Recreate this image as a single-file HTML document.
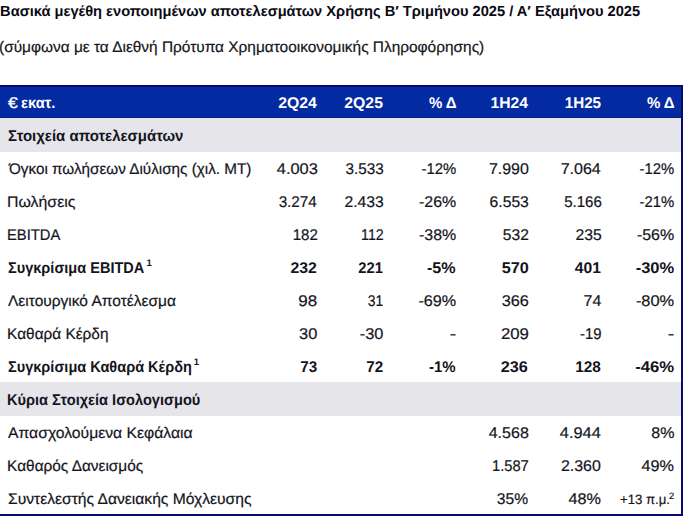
<!DOCTYPE html>
<html lang="el"><head><meta charset="utf-8"><title>Table</title>
<style>
html,body{margin:0;padding:0;background:#fff;}
body{text-rendering:geometricPrecision;width:685px;height:518px;position:relative;overflow:hidden;font-family:"Liberation Sans",sans-serif;color:#14141c;}
.t{position:absolute;white-space:nowrap;line-height:1;}
.L{transform-origin:0 0;}
.R{transform-origin:100% 0;}
.b{font-weight:bold;}
.t:not(.b){-webkit-text-stroke:0.2px currentColor;}
.t.sb{-webkit-text-stroke:0.3px currentColor;}
.hdr{position:absolute;left:0;top:85px;width:683px;height:33px;background:#032aa0;border-top:2px solid #08086e;border-bottom:1px solid #02208a;box-sizing:border-box;}
.sec{position:absolute;left:0;width:682px;height:34px;background:#e5e5ea;}
.rb{position:absolute;left:681px;top:85px;width:2px;height:431px;background:#08086e;}
.bb{position:absolute;left:0;top:514px;width:683px;height:2px;background:#08086e;}
</style></head><body>
<div class="hdr"></div>
<div class="sec" style="top:118px"></div>
<div class="sec" style="top:382px"></div>

<div class="t L b" id="title" style="top:5px;font-size:14.65px;color:#0a0a14;left:0.09px;">Βασικά μεγέθη ενοποιημένων αποτελεσμάτων Χρήσης Β′ Τριμήνου 2025 / Α′ Εξαμήνου 2025</div>
<div class="t L" id="sub" style="top:40px;font-size:15.3px;color:#15151c;left:-0.72px;transform:scaleX(1.0079);">(σύμφωνα με τα Διεθνή Πρότυπα Χρηματοοικονομικής Πληροφόρησης)</div>
<div class="t L b" id="l0" style="top:96px;font-size:15.5px;color:#fff;left:21.44px;transform:scaleX(0.9501);">εκατ.</div>
<div class="t R b" id="n0_0" style="top:96px;font-size:15.5px;color:#fff;right:368.30px;transform:scaleX(1.0205);">2Q24</div>
<div class="t R b" id="n0_1" style="top:96px;font-size:15.5px;color:#fff;right:301.91px;transform:scaleX(1.0176);">2Q25</div>
<div class="t R b" id="n0_2" style="top:96px;font-size:15.5px;color:#fff;right:228.83px;transform:scaleX(0.9683);">% Δ</div>
<div class="t R b" id="n0_3" style="top:96px;font-size:15.5px;color:#fff;right:157.20px;transform:scaleX(1.0143);">1H24</div>
<div class="t R b" id="n0_4" style="top:96px;font-size:15.5px;color:#fff;right:83.82px;transform:scaleX(0.9804);">1H25</div>
<div class="t R b" id="n0_5" style="top:96px;font-size:15.5px;color:#fff;right:10.63px;transform:scaleX(0.9683);">% Δ</div>
<div class="t L b" id="l1" style="top:129px;font-size:15.5px;left:8.23px;transform:scaleX(0.9647);">Στοιχεία αποτελεσμάτων</div>
<div class="t L" id="l2" style="top:162px;font-size:15.4px;left:9.02px;transform:scaleX(0.9915);">Όγκοι πωλήσεων Διύλισης (χιλ. ΜΤ)</div>
<div class="t R" id="n2_0" style="top:162px;font-size:15.5px;right:367.54px;transform:scaleX(1.0576);">4.003</div>
<div class="t R" id="n2_1" style="top:162px;font-size:15.5px;right:301.68px;transform:scaleX(0.9847);">3.533</div>
<div class="t R" id="n2_2" style="top:162px;font-size:15.5px;right:228.86px;transform:scaleX(0.9592);">-12%</div>
<div class="t R" id="n2_3" style="top:162px;font-size:15.5px;right:156.70px;transform:scaleX(1.0272);">7.990</div>
<div class="t R" id="n2_4" style="top:162px;font-size:15.5px;right:83.80px;transform:scaleX(1.0352);">7.064</div>
<div class="t R" id="n2_5" style="top:162px;font-size:15.5px;right:10.66px;transform:scaleX(0.9592);">-12%</div>
<div class="t L" id="l3" style="top:195px;font-size:15.4px;left:7.06px;transform:scaleX(1.0327);">Πωλήσεις</div>
<div class="t R" id="n3_0" style="top:195px;font-size:15.5px;right:367.82px;transform:scaleX(0.9837);">3.274</div>
<div class="t R" id="n3_1" style="top:195px;font-size:15.5px;right:301.66px;transform:scaleX(1.0125);">2.433</div>
<div class="t R" id="n3_2" style="top:195px;font-size:15.5px;right:228.83px;transform:scaleX(1.0273);">-26%</div>
<div class="t R" id="n3_3" style="top:195px;font-size:15.5px;right:156.47px;transform:scaleX(1.0098);">6.553</div>
<div class="t R" id="n3_4" style="top:195px;font-size:15.5px;right:83.59px;transform:scaleX(0.9688);">5.166</div>
<div class="t R" id="n3_5" style="top:195px;font-size:15.5px;right:10.66px;transform:scaleX(0.9592);">-21%</div>
<div class="t L" id="l4" style="top:228px;font-size:15.4px;left:7.15px;transform:scaleX(0.9597);">EBITDA</div>
<div class="t R" id="n4_0" style="top:228px;font-size:15.5px;right:367.59px;transform:scaleX(0.9726);">182</div>
<div class="t R" id="n4_1" style="top:228px;font-size:15.5px;right:301.72px;transform:scaleX(0.9172);">112</div>
<div class="t R" id="n4_2" style="top:228px;font-size:15.5px;right:228.83px;transform:scaleX(1.0273);">-38%</div>
<div class="t R" id="n4_3" style="top:228px;font-size:15.5px;right:156.47px;transform:scaleX(1.0061);">532</div>
<div class="t R" id="n4_4" style="top:228px;font-size:15.5px;right:83.56px;transform:scaleX(1.0161);">235</div>
<div class="t R" id="n4_5" style="top:228px;font-size:15.5px;right:10.62px;transform:scaleX(1.0301);">-56%</div>
<div class="t L b" id="l5" style="top:261px;font-size:15.5px;left:7.85px;transform:scaleX(0.9376);">Συγκρίσιμα EBITDA</div>
<div class="t R b" id="n5_0" style="top:261px;font-size:15.5px;right:367.81px;transform:scaleX(1.0221);">232</div>
<div class="t R b" id="n5_1" style="top:261px;font-size:15.5px;right:301.93px;transform:scaleX(0.9480);">221</div>
<div class="t R b" id="n5_2" style="top:261px;font-size:15.5px;right:229.07px;transform:scaleX(1.0392);">-5%</div>
<div class="t R b" id="n5_3" style="top:261px;font-size:15.5px;right:156.44px;transform:scaleX(1.0469);">570</div>
<div class="t R b" id="n5_4" style="top:261px;font-size:15.5px;right:83.81px;transform:scaleX(1.0108);">401</div>
<div class="t R b" id="n5_5" style="top:261px;font-size:15.5px;right:10.87px;transform:scaleX(1.0654);">-30%</div>
<div class="t L" id="l6" style="top:294px;font-size:15.4px;left:8.30px;transform:scaleX(1.0081);">Λειτουργικό Αποτέλεσμα</div>
<div class="t R" id="n6_0" style="top:294px;font-size:15.5px;right:367.51px;transform:scaleX(1.0953);">98</div>
<div class="t R" id="n6_1" style="top:294px;font-size:15.5px;right:301.74px;transform:scaleX(0.8928);">31</div>
<div class="t R" id="n6_2" style="top:294px;font-size:15.5px;right:228.82px;transform:scaleX(1.0443);">-69%</div>
<div class="t R" id="n6_3" style="top:294px;font-size:15.5px;right:156.44px;transform:scaleX(1.0506);">366</div>
<div class="t R" id="n6_4" style="top:294px;font-size:15.5px;right:83.81px;transform:scaleX(1.0231);">74</div>
<div class="t R" id="n6_5" style="top:294px;font-size:15.5px;right:10.61px;transform:scaleX(1.0585);">-80%</div>
<div class="t L" id="l7" style="top:327px;font-size:15.4px;left:7.10px;">Καθαρά Κέρδη</div>
<div class="t R" id="n7_0" style="top:327px;font-size:15.5px;right:367.79px;transform:scaleX(1.0568);">30</div>
<div class="t R" id="n7_1" style="top:327px;font-size:15.5px;right:301.89px;transform:scaleX(1.0542);">-30</div>
<div class="t R" id="n7_2" style="top:327px;font-size:15.5px;right:228.59px;transform:scaleX(1.2630);">-</div>
<div class="t R" id="n7_3" style="top:327px;font-size:15.5px;right:156.42px;transform:scaleX(1.0814);">209</div>
<div class="t R" id="n7_4" style="top:327px;font-size:15.5px;right:83.60px;transform:scaleX(0.9582);">-19</div>
<div class="t R" id="n7_5" style="top:327px;font-size:15.5px;right:10.39px;transform:scaleX(1.2630);">-</div>
<div class="t L b" id="l8" style="top:360px;font-size:15.5px;left:7.85px;transform:scaleX(0.9378);">Συγκρίσιμα Καθαρά Κέρδη</div>
<div class="t R b" id="n8_0" style="top:360px;font-size:15.5px;right:367.82px;transform:scaleX(0.9815);">73</div>
<div class="t R b" id="n8_1" style="top:360px;font-size:15.5px;right:301.92px;transform:scaleX(0.9815);">72</div>
<div class="t R b" id="n8_2" style="top:360px;font-size:15.5px;right:229.09px;transform:scaleX(0.9663);">-1%</div>
<div class="t R b" id="n8_3" style="top:360px;font-size:15.5px;right:156.70px;transform:scaleX(1.0469);">236</div>
<div class="t R b" id="n8_4" style="top:360px;font-size:15.5px;right:83.82px;transform:scaleX(0.9919);">128</div>
<div class="t R b" id="n8_5" style="top:360px;font-size:15.5px;right:10.86px;transform:scaleX(1.0770);">-46%</div>
<div class="t L b" id="l9" style="top:393px;font-size:15.5px;left:7.39px;transform:scaleX(0.9410);">Κύρια Στοιχεία Ισολογισμού</div>
<div class="t L" id="l10" style="top:426px;font-size:15.4px;left:8.30px;transform:scaleX(1.0217);">Απασχολούμενα Κεφάλαια</div>
<div class="t R" id="n10_3" style="top:426px;font-size:15.5px;right:156.45px;transform:scaleX(1.0338);">4.568</div>
<div class="t R" id="n10_4" style="top:426px;font-size:15.5px;right:83.79px;transform:scaleX(1.0561);">4.944</div>
<div class="t R" id="n10_5" style="top:426px;font-size:15.5px;right:10.62px;transform:scaleX(1.0347);">8%</div>
<div class="t L" id="l11" style="top:459px;font-size:15.4px;left:7.10px;">Καθαρός Δανεισμός</div>
<div class="t R" id="n11_3" style="top:459px;font-size:15.5px;right:156.50px;transform:scaleX(0.9492);">1.587</div>
<div class="t R" id="n11_4" style="top:459px;font-size:15.5px;right:83.80px;transform:scaleX(1.0272);">2.360</div>
<div class="t R" id="n11_5" style="top:459px;font-size:15.5px;right:10.62px;transform:scaleX(1.0456);">49%</div>
<div class="t L" id="l12" style="top:492px;font-size:15.4px;left:7.57px;transform:scaleX(1.0162);">Συντελεστής Δανειακής Μόχλευσης</div>
<div class="t R" id="n12_3" style="top:492px;font-size:15.5px;right:156.63px;transform:scaleX(1.0074);">35%</div>
<div class="t R" id="n12_4" style="top:492px;font-size:15.5px;right:83.72px;transform:scaleX(1.0456);">48%</div>
<div class="t L sb" id="eur" style="top:96px;font-size:15.5px;color:#fff;left:8.40px;transform:scaleX(1.1325);">€</div>
<div class="t L b" id="s5" style="top:259px;font-size:9.5px;left:146.41px;">1</div>
<div class="t L b" id="s8" style="top:358px;font-size:9.5px;left:193.81px;">1</div>
<div class="t L" id="pm" style="top:493px;font-size:13.6px;left:620.28px;transform:scaleX(0.9687);">+13 π.μ.</div>
<div class="t L" id="s12" style="top:492px;font-size:9.3px;left:669.36px;transform:scaleX(1.0093);">2</div>
<div class="rb"></div><div class="bb"></div>
</body></html>
